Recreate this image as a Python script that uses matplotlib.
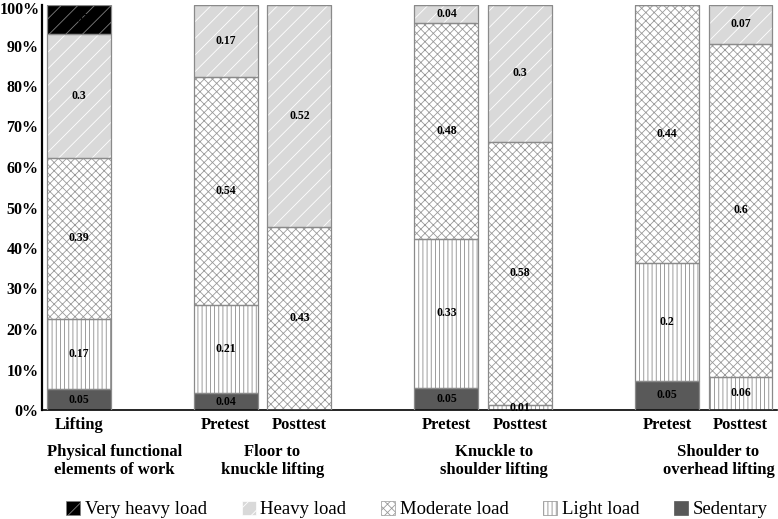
import matplotlib
matplotlib.use("Agg")
import matplotlib.pyplot as plt
import matplotlib.transforms as mtransforms
from matplotlib.patches import Patch
import numpy as np

plt.rcParams['font.family'] = ['Liberation Serif', 'DejaVu Serif']

bar_labels = ["Lifting", "Pretest", "Posttest", "Pretest", "Posttest", "Pretest", "Posttest"]
slots = [0, 2, 3, 5, 6, 8, 9]
group_labels = ["Physical functional\nelements of work", "Floor to\nknuckle lifting",
                "Knuckle to\nshoulder lifting", "Shoulder to\noverhead lifting"]
group_pos = [0.49, 2.63, 5.65, 8.70]

series = ["Sedentary", "Light load", "Moderate load", "Heavy load", "Very heavy load"]
sedentary = [0.05, 0.04, 0.00, 0.05, 0.00, 0.05, 0.00]
light     = [0.17, 0.21, 0.00, 0.33, 0.01, 0.20, 0.06]
moderate  = [0.39, 0.54, 0.43, 0.48, 0.58, 0.44, 0.60]
heavy     = [0.30, 0.17, 0.52, 0.04, 0.30, 0.00, 0.07]
very_heavy= [0.07, 0.00, 0.00, 0.00, 0.00, 0.00, 0.00]

data = np.array([sedentary, light, moderate, heavy, very_heavy])
pct = data / data.sum(axis=0) * 100

styles = {
    "Sedentary":      dict(fc="#595959", hatch=None, hc="#595959"),
    "Light load":     dict(fc="white", hatch="||||", hc="#8c8c8c"),
    "Moderate load":  dict(fc="white", hatch="xxxx", hc="#999999"),
    "Heavy load":     dict(fc="#d9d9d9", hatch="//", hc="white"),
    "Very heavy load":dict(fc="black", hatch="//", hc="#7f7f7f"),
}

plt.rcParams['hatch.linewidth'] = 0.6

fig = plt.figure(figsize=(7.78, 5.19), dpi=100)
ax = fig.add_axes([42/778, 1-410/519, (777.25-42)/778, (410-5)/519])

x = np.array(slots, dtype=float)
w = 0.87
bottom = np.zeros(len(slots))
for i, name in enumerate(series):
    st = styles[name]
    vals = pct[i]
    ax.bar(x, vals, w, bottom=bottom, color=st["fc"], edgecolor=st["hc"],
           hatch=st["hatch"], linewidth=0, zorder=2)
    ax.bar(x, vals, w, bottom=bottom, fill=False, edgecolor="#8a8a8a",
           linewidth=0.9, zorder=3)
    for j in range(len(slots)):
        if data[i, j] > 0:
            ax.text(x[j], bottom[j] + vals[j]/2, f"{data[i, j]:g}", ha="center", va="center",
                    fontsize=8.5, fontweight="bold", color="black", zorder=4)
    bottom += vals

ax.set_xlim(-0.5, 9.5)
ax.set_ylim(0, 100)
ax.set_yticks(np.arange(0, 101, 10))
ax.set_yticklabels([f"{v}%" for v in range(0, 101, 10)], fontsize=11.5, fontweight="bold")
ax.tick_params(axis='y', length=0, pad=2.5)
ax.set_xticks(x)
ax.set_xticklabels(bar_labels, fontsize=12, fontweight="bold")
ax.tick_params(axis='x', length=0, pad=5)
for s in ["top", "right"]:
    ax.spines[s].set_visible(False)
ax.spines["left"].set_linewidth(1.6)
ax.spines["bottom"].set_linewidth(1.2)

# nudge the top tick label slightly so it stays inside the figure
top_lab = ax.get_yticklabels()[-1]
top_lab.set_transform(top_lab.get_transform() +
                      mtransforms.ScaledTranslation(1/72, -2.5/72, fig.dpi_scale_trans))

for lab, gp in zip(group_labels, group_pos):
    ax.text(gp, -8.4, lab, ha="center", va="top", fontsize=12, fontweight="bold",
            linespacing=1.2, transform=ax.transData, clip_on=False)

handles = []
for name in ["Very heavy load", "Heavy load", "Moderate load", "Light load", "Sedentary"]:
    st = styles[name]
    handles.append(Patch(facecolor=st["fc"], edgecolor=st["hc"],
                         hatch=st["hatch"], label=name, linewidth=0.5))
fig.legend(handles=handles, loc="lower center", bbox_to_anchor=(0.536, -0.031), ncol=5,
           frameon=False, fontsize=13.5, handlelength=0.75, handleheight=0.75,
           handletextpad=0.25, columnspacing=1.85)

fig.savefig("out.png", dpi=100)
